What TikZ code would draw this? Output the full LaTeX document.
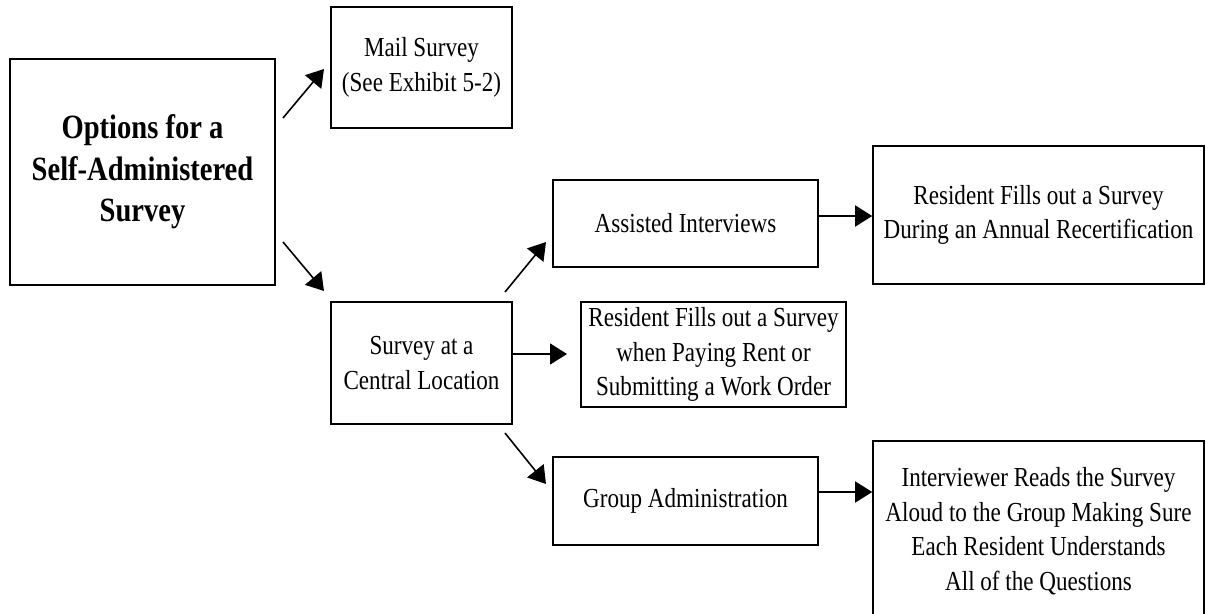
\documentclass[tikz,border=0pt]{standalone}
\usepackage{fontspec}
\setmainfont{Liberation Serif}[FakeStretch=0.84]
\usetikzlibrary{arrows.meta}
\tikzset{
  box/.style={draw, line width=1.6pt, inner sep=0pt, align=center,
    font=\fontsize{27.5}{34.5}\selectfont},
  titlebox/.style={box, font=\fontsize{34}{41.5}\selectfont\bfseries},
  arr/.style={line width=1.6pt, -{Triangle[length=17pt,width=21pt]}}
}
\begin{document}
\begin{tikzpicture}[x=1pt,y=-1pt]
\path[use as bounding box, clip] (0,0) rectangle (1206,613);
\fill[white] (0,0) rectangle (1206,613);
% boxes
\node[titlebox, minimum width=265pt, minimum height=226pt] (main) at (142.5,172)
  {Options for a\\Self-Administered\\Survey};
\node[box, minimum width=181pt, minimum height=121pt] (mail) at (421.5,67.5)
  {Mail Survey\\(See Exhibit 5-2)};
\node[box, minimum width=265pt, minimum height=87pt] (assisted) at (685.5,223.5)
  {Assisted Interviews};
\node[box, minimum width=331pt, minimum height=138pt] (rec) at (1038.5,215)
  {Resident Fills out a Survey\\During an Annual Recertification};
\node[box, minimum width=181pt, minimum height=122pt] (central) at (421.5,363)
  {Survey at a\\Central Location};
\node[box, minimum width=265pt, minimum height=105pt] (rent) at (713.5,354.5)
  {Resident Fills out a Survey\\when Paying Rent or\\Submitting a Work Order};
\node[box, minimum width=265pt, minimum height=88pt] (group) at (685.5,501)
  {Group Administration};
\node[box, minimum width=331pt, minimum height=180pt] (interv) at (1038.5,531)
  {Interviewer Reads the Survey\\Aloud to the Group Making Sure\\Each Resident Understands\\All of the Questions};
% arrow end points
\coordinate (m1s) at (283,118);  \coordinate (m1e) at (324,69);
\coordinate (m2s) at (283,242);  \coordinate (m2e) at (324,291);
\coordinate (c1s) at (505,292);  \coordinate (c1e) at (546,242);
\coordinate (c3s) at (505,433);  \coordinate (c3e) at (546,484);
\coordinate (c2e) at (567,354);
% connectors
\draw[arr] (m1s) -- (m1e);
\draw[arr] (m2s) -- (m2e);
\draw[arr] (c1s) -- (c1e);
\draw[arr] (c3s) -- (c3e);
\draw[arr] (central.east |- c2e) -- (c2e);
\draw[arr] (assisted.east |- 0,216) -- (rec.west |- 0,216);
\draw[arr] (group.east |- 0,492) -- (interv.west |- 0,492);
\end{tikzpicture}
\end{document}
